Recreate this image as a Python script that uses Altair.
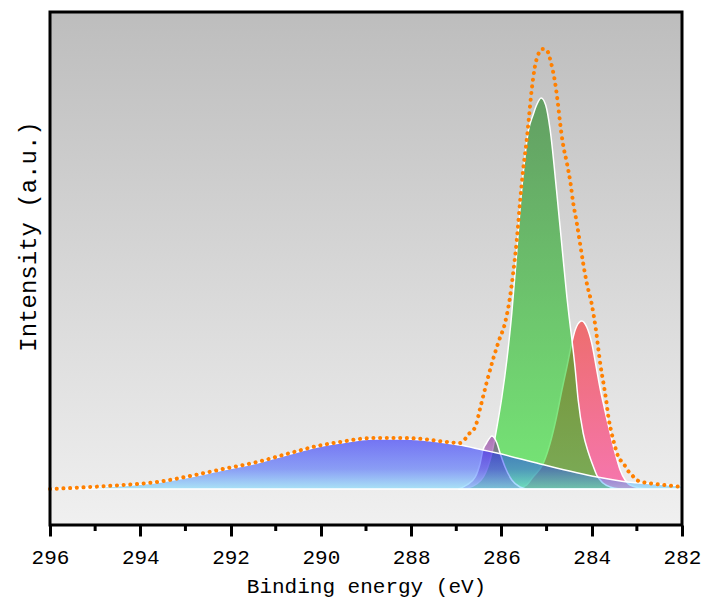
import altair as alt
import pandas as pd

# ---- data (binding energy in eV, intensity in a.u.) ----
ENV_BE = [296.00, 295.11, 294.38, 293.63, 292.90, 292.17, 291.41, 290.68, 290.08, 289.58,
          288.84, 288.25, 287.74, 287.21, 286.92, 286.70, 286.58, 286.47, 286.33, 286.19,
          286.05, 285.92, 285.81, 285.74, 285.66, 285.59, 285.52, 285.44, 285.39, 285.33,
          285.26, 285.19, 285.09, 285.00, 284.90, 284.81, 284.75, 284.70, 284.64, 284.55,
          284.47, 284.41, 284.33, 284.26, 284.19, 284.11, 284.00, 283.95, 283.90, 283.85,
          283.80, 283.74, 283.68, 283.63, 283.56, 283.48, 283.41, 283.30, 283.21, 283.11,
          283.00, 282.89, 282.75, 282.20, 282.00]
ENV_I = [0, 2, 4, 7, 13, 20, 27, 36, 43, 47,
         51, 51, 50, 47, 46, 56, 62, 81, 106, 129,
         149, 166, 192, 216, 249, 286, 319, 349, 372, 399,
         422, 434, 440, 439, 426, 406, 386, 366, 346, 326,
         306, 286, 266, 246, 226, 206, 185, 172, 157, 139,
         122, 106, 89, 72, 56, 42, 32, 26, 19, 14,
         9, 7, 6, 3, 2]

BLUE_BE = [296.00, 295.11, 294.38, 293.63, 292.90, 292.17, 291.41, 290.68, 290.08, 289.58,
           288.84, 288.25, 287.74, 287.21, 286.92, 286.41, 286.10, 285.14, 283.88, 283.22,
           282.55, 282.00]
BLUE_I = [0, 1.5, 3.5, 6.5, 12, 19, 26, 35, 42, 46,
          50, 50, 49, 46, 44, 39, 36, 25, 12, 7,
          5, 3]

PURPLE_BE = [286.95, 286.77, 286.58, 286.47, 286.41, 286.33, 286.21, 286.10, 286.03, 285.92,
             285.77, 285.59, 285.45]
PURPLE_I = [0, 4, 12, 26, 39, 46, 53, 46, 36, 22, 9, 2, 0]

GREEN_BE = [283.37, 283.59, 283.75, 283.89, 283.96, 284.07, 284.19, 284.30, 284.37, 284.44,
            284.50, 284.55, 284.66, 284.78, 284.92, 285.02, 285.12, 285.22, 285.30, 285.40,
            285.51, 285.59, 285.68, 285.77, 285.88, 285.99, 286.10, 286.20, 286.30, 286.40,
            286.55, 286.75, 286.95]
GREEN_I = [0, 2, 6, 14, 22, 36, 56, 89, 122, 150,
           172, 192, 243, 299, 359, 384, 391, 384, 374, 359,
           319, 279, 226, 176, 129, 92, 62, 38, 22, 12,
           5, 1, 0]

RED_BE = [282.71, 282.93, 283.15, 283.26, 283.37, 283.48, 283.59, 283.71, 283.82, 283.90,
          284.00, 284.11, 284.22, 284.33, 284.41, 284.46, 284.55, 284.66, 284.78, 284.92,
          285.07, 285.30, 285.44, 285.60, 285.75]
RED_I = [0, 1, 4, 9, 19, 36, 56, 79, 102, 122,
         146, 162, 168, 163, 152, 142, 122, 99, 72, 46,
         26, 12, 4, 1, 0]

MAJOR_TICKS = [282, 284, 286, 288, 290, 292, 294, 296]
MINOR_TICKS = [283, 285, 287, 289, 291, 293, 295]

W, H = 632, 513
FONT = "Liberation Mono"

xscale = alt.Scale(domain=[282, 296], reverse=True, nice=False, zero=False)
yscale = alt.Scale(domain=[-36, 477], nice=False, zero=False)

xaxis = alt.Axis(values=MAJOR_TICKS, format="d", domain=False, grid=False,
                 tickSize=11, tickWidth=3, tickColor="black",
                 labelFont=FONT, labelFontSize=21, labelColor="black",
                 labelPadding=10, labelFlush=False, labelOverlap=False,
                 title="Binding energy (eV)", titleFont=FONT, titleFontSize=21,
                 titleFontWeight="normal", titleColor="black",
                 titleBaseline="alphabetic", titleY=67)
yaxis = alt.Axis(labels=False, ticks=False, domain=False, grid=False,
                 title="Intensity (a.u.)", titleFont=FONT, titleFontSize=24,
                 titleFontWeight="normal", titleColor="black",
                 titleAngle=270, titleAlign="center", titleBaseline="alphabetic",
                 titleX=-15, titleY=224)


def X():
    return alt.X("be:Q", scale=xscale, axis=xaxis)


def Y():
    return alt.Y("I:Q", scale=yscale, axis=yaxis)


def grad(stops):
    return alt.Gradient(gradient="linear",
                        stops=[alt.GradientStop(color=c, offset=o) for o, c in stops],
                        x1=0, x2=0, y1=0, y2=1)


one = alt.Data(values=[{"k": 1}])

bg = alt.Chart(one).mark_rect(
    fill=grad([(0, "#bdbdbd"), (1, "#f0f0f0")])
).encode(x=alt.value(0), x2=alt.value(W), y=alt.value(0), y2=alt.value(H))


def area(be, inten, stops):
    df = pd.DataFrame({"be": be, "I": inten})
    return alt.Chart(df).mark_area(
        fill=grad(stops), fillOpacity=0.5, stroke="white", strokeWidth=1.5,
        interpolate="monotone"
    ).encode(x=X(), y=Y(), y2=alt.datum(0))


red = area(RED_BE, RED_I, [(0, "#ff0000"), (1, "#ff0070")])
green = area(GREEN_BE, GREEN_I, [(0, "#007800"), (1, "#00e000")])
purple = area(PURPLE_BE, PURPLE_I, [(0, "#700080"), (1, "#b070e0")])
blue = area(BLUE_BE, BLUE_I, [(0, "#0000ff"), (0.6, "#2a50ff"), (1, "#66d8ff")])

env_df = pd.DataFrame({"be": ENV_BE, "I": ENV_I})
env = alt.Chart(env_df).mark_line(
    stroke="#ff8000", strokeWidth=4, strokeDash=[0.1, 6.6], strokeCap="round",
    interpolate="monotone"
).encode(x=X(), y=Y())

minor_df = pd.DataFrame({"be": MINOR_TICKS})
minor = alt.Chart(minor_df).mark_rule(color="black", strokeWidth=3).encode(
    x=X(), y=alt.value(H), y2=alt.value(H + 6)
)

frame = alt.Chart(one).mark_rect(filled=False, stroke="black", strokeWidth=3).encode(
    x=alt.value(0), x2=alt.value(W), y=alt.value(0), y2=alt.value(H)
)

chart = alt.layer(bg, red, green, purple, blue, env, minor, frame).properties(
    width=W, height=H,
    padding={"left": 50, "top": 12, "right": 23, "bottom": 75},
    autosize=alt.AutoSizeParams(type="none"),
    background="white",
).configure_view(stroke=None)

chart.save("out.html", embed_options={"renderer": "svg", "actions": False})
